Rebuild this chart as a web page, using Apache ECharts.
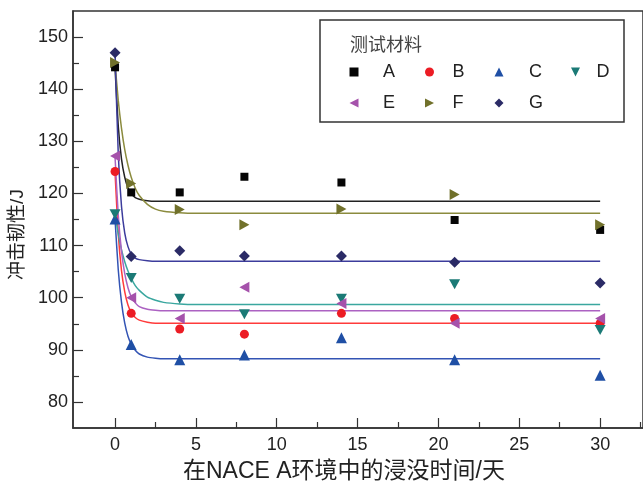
<!DOCTYPE html>
<html>
<head>
<meta charset="utf-8">
<script src="https://cdn.jsdelivr.net/npm/echarts@6/dist/echarts.min.js"></script>
<style>
html, body { margin: 0; padding: 0; background: #fff; }
#chart { width: 643px; height: 488px; }
</style>
</head>
<body>
<div id="chart"></div>
<script>
// 浸没时间（天）
const days = [0, 1, 4, 8, 14, 21, 30];
const materials = ['A', 'B', 'C', 'D', 'E', 'F', 'G'];
const legendRow1 = ['A', 'B', 'C', 'D'];
const legendRow2 = ['E', 'F', 'G'];

// 冲击韧性实测值 (J)
const valuesA = [144.2, 120.2, 120.2, 123.2, 122.1, 114.9, 113.0];
const valuesB = [124.2, 97.0, 94.0, 93.0, 97.0, 96.0, 95.1];
const valuesC = [115.1, 91.0, 88.1, 89.0, 92.3, 88.1, 85.1];
const valuesD = [116.0, 103.8, 99.8, 96.8, 99.8, 102.6, 93.8];
const valuesE = [127.2, 100.0, 96.0, 102.0, 98.9, 95.1, 96.0];
const valuesF = [145.1, 121.9, 116.9, 114.0, 117.0, 119.8, 114.0];
const valuesG = [147.0, 107.9, 109.0, 108.0, 108.0, 106.8, 102.8];

// 拟合曲线（按图上读数取点）
const fitDays = [0, 0.2, 0.4, 0.6, 0.8, 1, 1.25, 1.5, 2, 2.5, 3, 4, 5, 30];
const fitA = [144, 132.9, 126.6, 123.1, 121.1, 120.0, 119.2, 118.9, 118.6, 118.5, 118.5, 118.5, 118.5, 118.5];
const fitB = [124, 112.2, 105.2, 101.1, 98.6, 97.2, 96.2, 95.7, 95.3, 95.1, 95.1, 95.1, 95.1, 95.1];
const fitC = [115, 105.3, 99.1, 95.1, 92.6, 91.1, 89.9, 89.2, 88.6, 88.4, 88.3, 88.3, 88.3, 88.3];
const fitD = [116, 112.2, 109.2, 106.9, 105.1, 103.7, 102.3, 101.4, 100.1, 99.5, 99.1, 98.8, 98.7, 98.7];
const fitE = [127, 115.8, 108.9, 104.6, 101.9, 100.2, 99.0, 98.3, 97.8, 97.6, 97.5, 97.5, 97.5, 97.5];
const fitF = [145, 137.8, 132.5, 128.4, 125.4, 123.1, 121.0, 119.6, 117.9, 117.0, 116.6, 116.3, 116.2, 116.2];
const fitG = [147, 127.5, 117.5, 112.4, 109.8, 108.4, 107.6, 107.3, 107.1, 107.0, 107.0, 107.0, 107.0, 107.0];

// 刻度
const xMajorTicks = [0, 5, 10, 15, 20, 25, 30];
const xMinorTicks = [2.5, 7.5, 12.5, 17.5, 22.5, 27.5, 32.5];
const yMajorTicks = [80, 90, 100, 110, 120, 130, 140, 150];
const yMinorTicks = [85, 95, 105, 115, 125, 135, 145];

const xName = '在NACE A环境中的浸没时间/天';
const yName = '冲击韧性/J';
const legendTitle = '测试材料';

const measured = { A: valuesA, B: valuesB, C: valuesC, D: valuesD, E: valuesE, F: valuesF, G: valuesG };
const fitted = { A: fitA, B: fitB, C: fitC, D: fitD, E: fitE, F: fitF, G: fitG };

// 三角形朝向
const triDown = 'path://M0,0L10,0L5,10Z';
const triLeft = 'path://M10,0L10,10L0,5Z';
const triRight = 'path://M0,0L10,5L0,10Z';

// 样式：颜色、符号、图例文字间距
const styles = {
    A: { color: '#050505', line: '#222222', symbol: 'rect', size: 8, textGap: 19.5 },
    B: { color: '#ec1c24', line: '#ff3b3b', symbol: 'circle', size: 9, textGap: 13.5 },
    C: { color: '#1f4fa5', line: '#3354b4', symbol: 'triangle', size: 11, textGap: 20.5 },
    D: { color: '#1b7a76', line: '#3aa79f', symbol: triDown, size: [11, 10], textGap: 11.5 },
    E: { color: '#a552ab', line: '#ac62c2', symbol: triLeft, size: [10, 11], textGap: 19.5 },
    F: { color: '#71712b', line: '#8b8b3e', symbol: triRight, size: [10, 11], textGap: 13.5 },
    G: { color: '#2b2b66', line: '#3c3c9c', symbol: 'diamond', size: 11, textGap: 20.5 }
};

const latin = "'Liberation Sans', Arial, sans-serif";
const mixed = "'Liberation Sans', 'Noto Sans CJK SC', sans-serif";
const axisColor = '#333';
const textColor = '#222';

const series = [];
materials.forEach(m => {
    const st = styles[m];
    series.push({
        type: 'line',
        name: m + '拟合',
        data: fitDays.map((d, i) => [d, fitted[m][i]]),
        symbol: 'none',
        smooth: 0.2,
        lineStyle: { color: st.line, width: 1.5 },
        itemStyle: { color: st.line },
        silent: true,
        z: 2
    });
});
materials.forEach(m => {
    const st = styles[m];
    series.push({
        type: 'scatter',
        name: m,
        data: days.map((d, i) => [d, measured[m][i]]),
        symbol: st.symbol,
        symbolSize: st.size,
        itemStyle: { color: st.color, opacity: 1 },
        z: 3
    });
});

function legendRow(names, top) {
    return {
        data: names.map(m => ({
            name: m,
            icon: styles[m].symbol,
            textStyle: { padding: [0, 0, 0, styles[m].textGap] }
        })),
        left: 349.5,
        top: top,
        padding: 0,
        itemWidth: 9,
        itemHeight: 9,
        itemGap: 29,
        textStyle: { fontSize: 18, color: textColor, fontFamily: latin, width: 13, lineHeight: 22 }
    };
}

function valueAxis(extra) {
    return Object.assign({
        type: 'value',
        splitLine: { show: false },
        axisLine: { show: true, onZero: false, lineStyle: { color: axisColor, width: 1.5 } }
    }, extra);
}

const option = {
    animation: false,
    backgroundColor: '#fff',
    title: {
        text: legendTitle,
        left: 320,
        top: 20,
        padding: [15, 202, 69, 30],
        borderColor: axisColor,
        borderWidth: 1.5,
        textStyle: { fontSize: 18, fontWeight: 'normal', color: '#444', fontFamily: "'Noto Sans CJK SC', sans-serif" }
    },
    legend: [legendRow(legendRow1, 61), legendRow(legendRow2, 92)],
    grid: {
        left: 73,
        top: 11,
        right: 0,
        bottom: 53,
        show: true,
        borderColor: axisColor,
        borderWidth: 1.5
    },
    xAxis: [
        valueAxis({
            position: 'bottom',
            min: -2.6,
            max: 32.65,
            axisTick: { inside: true, length: 10, customValues: xMajorTicks, lineStyle: { color: axisColor, width: 1.2 } },
            axisLabel: { customValues: xMajorTicks, margin: 8, fontSize: 18, color: textColor, fontFamily: latin },
            name: xName,
            nameLocation: 'middle',
            nameGap: 32,
            nameTextStyle: { fontSize: 23, color: textColor, fontFamily: mixed, padding: [0, 28, 0, 0] }
        }),
        valueAxis({
            position: 'bottom',
            min: -2.6,
            max: 32.65,
            axisLine: { show: false, onZero: false },
            axisTick: { inside: true, length: 6, customValues: xMinorTicks, lineStyle: { color: axisColor, width: 1.2 } },
            axisLabel: { show: false }
        })
    ],
    yAxis: [
        valueAxis({
            position: 'left',
            min: 75,
            max: 155,
            axisTick: { inside: true, length: 10, customValues: yMajorTicks, lineStyle: { color: axisColor, width: 1.2 } },
            axisLabel: { customValues: yMajorTicks, margin: 5, fontSize: 18, color: textColor, fontFamily: latin },
            name: yName,
            nameLocation: 'middle',
            nameGap: 38,
            nameTextStyle: { fontSize: 19, color: textColor, fontFamily: mixed, padding: [0, 30, 0, 0] }
        }),
        valueAxis({
            position: 'left',
            min: 75,
            max: 155,
            axisLine: { show: false, onZero: false },
            axisTick: { inside: true, length: 6, customValues: yMinorTicks, lineStyle: { color: axisColor, width: 1.2 } },
            axisLabel: { show: false }
        })
    ],
    series: series
};

const chart = echarts.init(document.getElementById('chart'), null, { renderer: 'canvas' });
chart.setOption(option);
</script>
</body>
</html>
